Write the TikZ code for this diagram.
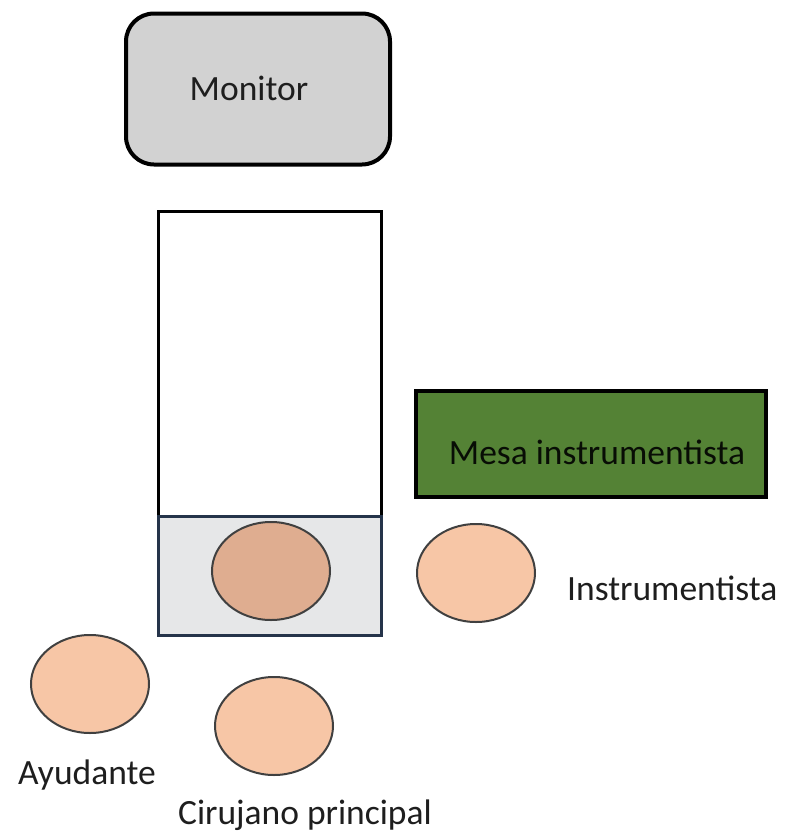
\documentclass[tikz,border=0pt]{standalone}
\usepackage{fontspec}
\setmainfont{Carlito}
\usetikzlibrary{shapes.geometric}
\definecolor{monfill}{HTML}{D2D2D2}
\definecolor{tablelow}{HTML}{E6E7E8}
\definecolor{tableedge}{HTML}{25344A}
\definecolor{mesagreen}{HTML}{548235}
\definecolor{peach}{HTML}{F7C6A6}
\definecolor{peachdark}{HTML}{DFAD90}
\definecolor{txt}{HTML}{1E1E1E}
\tikzset{
  bigtext/.style={font=\fontsize{35.5}{42}\selectfont, text=txt},
  person/.style={ellipse, draw=black!75, line width=2pt, fill=peach,
    minimum width=118pt, minimum height=98pt, inner sep=0pt},
  lbl/.style={bigtext, inner sep=0pt}
}
\begin{document}
\begin{tikzpicture}[x=1pt,y=-1pt]
\useasboundingbox[fill=white] (0,0) rectangle (789,839);
% Monitor
\node[draw=black, line width=4pt, fill=monfill, rounded corners=28pt,
  minimum width=264pt, minimum height=151pt, inner sep=0pt] (monitor) at (258,89) {};
\node[lbl, anchor=center] (montxt) at (249,88) {Monitor};
% operating table
\node[draw=black, line width=3pt, fill=white, minimum width=223pt, minimum height=305pt,
  inner sep=0pt] (tableup) at (269.5,363.5) {};
\node[draw=tableedge, line width=3pt, fill=tablelow, minimum width=223pt, minimum height=119pt,
  inner sep=0pt] (tablelow) at (269.5,575.5) {};
\node[person, fill=peachdark] (patient) at (271,571) {};
% Mesa
\node[draw=black, line width=3.5pt, fill=mesagreen, minimum width=350pt, minimum height=106pt,
  inner sep=0pt] (mesa) at (591,444) {};
\node[lbl, text=black!90!mesagreen] (mesatxt) at (597,452) {Mesa instrumentista};
% people
\node[person] (instr) at (476,573) {};
\node[lbl, anchor=west] (instrtxt) at (567,588) {Instrumentista};
\node[person] (ayud) at (90,684) {};
\node[lbl] (ayudtxt) at (87,775) {Ayudante};
\node[person] (ciru) at (274,726) {};
\node[lbl] (cirutxt) at (305,815) {Cirujano principal};
\end{tikzpicture}
\end{document}
